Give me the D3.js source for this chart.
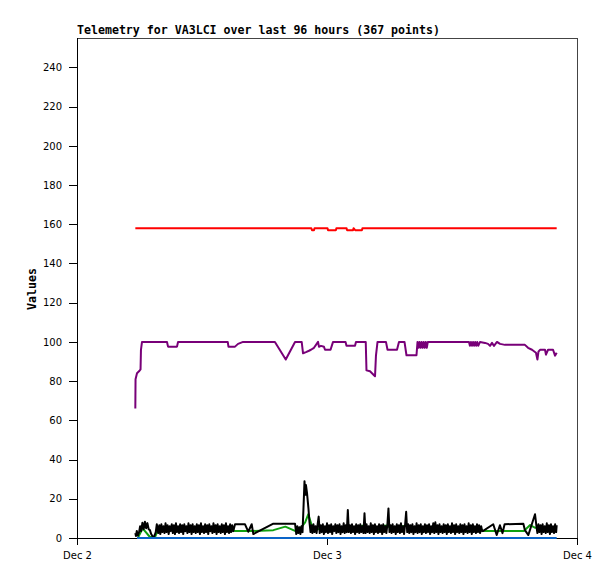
<!DOCTYPE html>
<html>
<head>
<meta charset="utf-8">
<script src="https://cdn.jsdelivr.net/npm/d3@7"></script>
<style>
  html, body { margin: 0; padding: 0; background: #fff; }
  svg { display: block; }
</style>
</head>
<body>
<script>
// ---- Data (hours after Dec 2 00:00, value) ----
const chartTitle = "Telemetry for VA3LCI over last 96 hours (367 points)";
const yLabel = "Values";
const xTickDays = ["2024-12-02", "2024-12-03", "2024-12-04"];
const yTicks = [0, 20, 40, 60, 80, 100, 120, 140, 160, 180, 200, 220, 240];

const redSeries = [
  [5.6,158],[22.5,158],[22.56,157],[22.75,157],[22.8,158],[24.05,158],[24.1,157],[24.86,157],
  [24.9,158],[25.88,158],[25.92,157],[26.5,157],[26.55,158],[26.7,157],[27.36,157],[27.4,158],[46.05,158]
];

const purpleSeries = [
  [5.6,66],[5.62,81],[5.76,84],[5.95,85],[6.1,86],[6.14,96],[6.24,100],[8.64,100],[8.74,97.6],[9.6,97.6],
  [9.7,100],[14.47,100],[14.54,97.6],[15.17,97.6],[15.46,99],[15.94,100],[19.0,100],[20.04,91],[20.93,100],
  [21.57,100],[21.7,94.2],[21.98,94.8],[22.27,95.5],[22.46,96],[22.75,97],[23.14,100],[23.23,97.5],[23.42,98],
  [23.71,97.5],[23.81,96],[24.34,96],[24.58,100],[25.78,100],[25.87,98],[26.69,98],[26.78,100],[27.72,100],
  [27.79,85.5],[28.13,85],[28.32,84],[28.51,83],[28.61,82.5],[28.7,93],[28.85,100],[29.66,100],[29.81,96],
  [30.72,96],[30.91,100],[31.44,100],[31.63,93.2],[32.59,93.2],[32.69,100],[32.78,97],[32.88,100],[32.98,97],
  [33.08,100],[33.18,97],[33.28,100],[33.38,97],[33.48,100],[33.58,97],[33.68,100],[37.63,100],[37.72,98],
  [37.82,100],[37.92,98],[38.02,100],[38.12,98],[38.22,100],[38.32,98],[38.42,100],[38.52,98],
  [38.69,100],[39.17,99.5],[39.46,99],[39.65,98],[39.84,99.5],[40.03,98],[40.32,100],[40.61,99],[41.09,98.5],
  [43.0,98.5],[43.3,97],[43.68,96],[44.06,94.5],[44.2,91],[44.3,95],[44.45,96],[44.93,96],[45.02,93.5],
  [45.22,96],[45.7,96],[45.89,93],[46.05,94.5]
];

const greenSeries = [
  [5.89,0.5],[6.3,4.9],[7.0,0.5],[7.49,0.5],[7.8,4.5],[10.0,4.8],[12.0,4.6],[14.5,4.7],[15.17,3.6],
  [16.93,3.6],[18.85,4.0],[20.0,5.8],[20.93,3.6],[21.4,4.5],[21.9,8.0],[22.2,12.1],[22.5,7.0],[22.85,4.5],
  [25.0,4.8],[26.0,5.5],[26.5,4.8],[27.5,6.4],[28.0,4.8],[29.73,6.4],[30.2,4.8],[31.65,6.4],[32.2,4.8],
  [35.0,4.6],[38.5,4.8],[39.0,3.6],[42.9,3.6],[43.5,6.6],[44.0,5.2],[46.05,5.0]
];

const blackSeries = [
  [5.60,2.5],[5.66,1.0],[5.74,3.6],[5.84,1.2],[5.96,3.0],[6.06,6.0],[6.16,3.5],[6.28,7.8],[6.40,4.5],
  [6.52,8.3],[6.64,5.0],[6.76,7.6],[6.88,4.5],[7.00,4.0],[7.12,2.0],[7.24,1.0],[7.34,0.3],[7.46,1.5],
  [7.56,3.0],[7.66,7.0],
  [7.8,2.5],[7.9,6.5],[8.0,2.0],[8.1,7.0],[8.2,3.0],[8.3,6.0],[8.4,2.5],[8.5,7.5],[8.6,3.0],[8.7,6.5],
  [8.8,2.0],[8.9,6.0],[9.0,3.5],[9.1,7.0],[9.2,2.5],[9.3,6.5],[9.4,2.0],[9.5,7.5],[9.6,3.0],[9.7,6.0],
  [9.8,2.5],[9.9,7.0],[10.0,3.0],[10.1,6.5],[10.2,2.0],[10.3,7.0],[10.4,3.5],[10.5,6.0],[10.6,2.5],
  [10.7,7.5],[10.8,3.0],[10.9,6.5],[11.0,2.0],[11.1,7.0],[11.2,3.0],[11.3,6.0],[11.4,2.5],[11.5,7.0],
  [11.6,3.0],[11.7,6.5],[11.8,2.0],[11.9,7.5],[12.0,3.0],[12.1,6.0],[12.2,2.5],[12.3,7.0],[12.4,3.0],
  [12.5,6.5],[12.6,2.0],[12.7,7.0],[12.8,3.5],[12.9,6.0],[13.0,2.5],[13.1,7.5],[13.2,3.0],[13.3,6.5],
  [13.4,2.0],[13.5,7.0],[13.6,3.0],[13.7,6.0],[13.8,2.5],[13.9,7.0],[14.0,3.0],[14.1,6.5],[14.2,2.0],
  [14.3,7.5],[14.4,3.0],[14.5,6.0],[14.6,2.5],[14.7,7.0],[14.8,3.0],[14.9,6.5],
  [15.00,3.5],[15.17,7.0],[16.13,7.0],[16.44,3.2],[16.77,7.0],[16.93,2.0],[18.85,7.3],[20.93,7.3],
  [21.05,2.0],[21.15,6.0],[21.25,2.5],[21.35,5.5],[21.45,2.0],[21.55,6.0],[21.65,3.0],[21.74,15],[21.84,29],
  [21.92,22],[21.98,27],[22.08,23],[22.22,15],[22.32,8],[22.42,3],
  [22.5,6.5],[22.6,2.5],[22.7,7.0],[22.8,3.0],[22.9,6.0],[23.0,2.5],[23.1,7.0],[23.2,10.9],[23.3,2.5],
  [23.4,6.5],[23.5,3.0],[23.6,7.0],[23.7,2.0],[23.8,6.0],[23.9,3.0],[24.0,7.5],[24.1,2.5],[24.2,6.5],
  [24.3,3.0],[24.4,7.0],[24.5,2.0],[24.6,6.0],[24.7,3.5],[24.8,7.0],[24.9,2.5],[25.0,6.5],[25.1,3.0],
  [25.2,7.0],[25.3,2.0],[25.4,6.0],[25.5,3.0],[25.6,7.5],[25.7,2.5],[25.8,6.5],[25.9,3.0],[26.0,14.3],
  [26.1,3.0],[26.2,6.5],[26.3,2.5],[26.4,7.0],[26.5,3.0],[26.6,6.0],[26.7,2.0],[26.8,7.0],[26.9,3.0],
  [27.0,6.5],[27.1,2.5],[27.2,7.0],[27.3,3.0],[27.4,6.0],[27.5,2.5],[27.6,12.6],[27.7,2.5],[27.8,7.0],
  [27.9,3.0],[28.0,6.0],[28.1,2.5],[28.2,7.5],[28.3,3.0],[28.4,6.5],[28.5,2.0],[28.6,7.0],[28.7,3.0],
  [28.8,6.0],[28.9,2.5],[29.0,7.0],[29.1,3.0],[29.2,6.5],[29.3,2.0],[29.4,7.0],[29.5,3.0],[29.6,6.0],
  [29.7,2.5],[29.8,7.0],[29.9,15.1],[30.0,3.0],[30.1,6.5],[30.2,2.5],[30.3,7.0],[30.4,3.0],[30.5,6.0],
  [30.6,2.0],[30.7,7.0],[30.8,3.0],[30.9,6.5],[31.0,2.5],[31.1,7.5],[31.2,3.0],[31.3,6.0],[31.4,2.0],
  [31.5,7.0],[31.6,13.4],[31.7,3.0],[31.8,7.0],[31.9,2.5],[32.0,6.5],[32.1,3.0],[32.2,7.0],[32.3,2.0],
  [32.4,6.0],[32.5,3.0],[32.6,7.5],[32.7,2.5],[32.8,6.5],[32.9,3.0],[33.0,7.0],[33.1,2.0],[33.2,6.0],
  [33.3,3.0],[33.4,7.0],[33.5,2.5],[33.6,6.5],[33.7,3.0],[33.8,7.0],[33.9,2.0],[34.0,6.0],[34.1,3.0],
  [34.2,7.5],[34.3,2.5],[34.4,8.0],[34.5,3.0],[34.6,6.5],[34.7,2.0],[34.8,7.0],[34.9,3.0],[35.0,6.0],
  [35.1,2.5],[35.2,7.0],[35.3,3.0],[35.4,6.5],[35.5,2.0],[35.6,7.0],[35.7,3.0],[35.8,6.0],[35.9,2.5],
  [36.0,7.5],[36.1,3.0],[36.2,6.5],[36.3,2.0],[36.4,7.0],[36.5,3.0],[36.6,6.0],[36.7,2.5],[36.8,7.0],
  [36.9,3.0],[37.0,6.5],[37.1,2.0],[37.2,7.0],[37.3,3.0],[37.4,6.0],[37.5,2.5],[37.6,7.5],[37.7,3.0],
  [37.8,6.5],[37.9,2.0],[38.0,7.0],[38.1,3.0],[38.2,6.0],[38.3,2.5],[38.4,7.0],[38.5,3.0],[38.6,6.5],
  [38.7,2.5],[38.8,6.0],[38.9,3.5],
  [39.00,3.6],[39.96,7.0],[40.29,1.5],[40.60,6.5],[40.85,2.5],[41.05,7.0],[42.85,7.3],[43.00,4.0],
  [43.33,1.5],[43.97,12.1],[44.13,5.0],
  [44.2,2.5],[44.3,7.0],[44.4,3.0],[44.5,6.5],[44.6,2.0],[44.7,7.0],[44.8,3.0],[44.9,6.0],[45.0,2.5],
  [45.1,7.5],[45.2,3.0],[45.3,6.5],[45.4,2.0],[45.5,7.0],[45.6,3.0],[45.7,6.0],[45.8,2.5],[45.9,7.0],
  [46.0,3.0],[46.05,6.5]
];

const blueSeries = [[5.76,0],[46.05,0]];

const seriesList = [
  { name: "red", data: redSeries, color: "#ff0000" },
  { name: "purple", data: purpleSeries, color: "#780078" },
  { name: "green", data: greenSeries, color: "#10a010" },
  { name: "black", data: blackSeries, color: "#000000" },
  { name: "blue", data: blueSeries, color: "#0a64c8" }
];

// ---- Layout ----
const W = 615, H = 579;
const mLeft = 77, mRight = 577, mTop = 38, mBottom = 538;
const t0 = Date.UTC(2024, 11, 2);
const toDate = h => new Date(t0 + h * 3600e3);

const x = d3.scaleUtc()
  .domain([new Date(xTickDays[0] + "T00:00:00Z"), new Date(xTickDays[2] + "T00:00:00Z")])
  .range([mLeft, mRight]);
const y = d3.scaleLinear().domain([0, 255]).range([mBottom, mTop]);

const svg = d3.select("body").append("svg").attr("width", W).attr("height", H);

// frame top / right
svg.append("path")
  .attr("d", `M${mLeft},${mTop + 0.5}H${mRight + 0.5}V${mBottom + 7}`)
  .attr("fill", "none").attr("stroke", "#444").attr("stroke-width", 1.2)
  .attr("shape-rendering", "crispEdges");

// title
svg.append("text")
  .attr("x", mLeft).attr("y", 34)
  .attr("font-family", "DejaVu Sans Mono, monospace")
  .attr("font-weight", "bold").attr("font-size", "11.6px")
  .attr("fill", "#000")
  .text(chartTitle);

// y label
svg.append("text")
  .attr("transform", "translate(36,289) rotate(-90)")
  .attr("text-anchor", "middle")
  .attr("font-family", "DejaVu Sans Mono, monospace")
  .attr("font-weight", "bold").attr("font-size", "11.6px")
  .text(yLabel);

// axes
const yAxis = d3.axisLeft(y).tickValues(yTicks).tickSize(8).tickSizeOuter(0).tickPadding(7);
const gy = svg.append("g").attr("transform", `translate(${mLeft},0)`).call(yAxis);
gy.select(".domain").attr("stroke", "#000").attr("d", `M0.5,${mTop}V${mBottom}`);

const xAxis = d3.axisBottom(x)
  .tickValues(xTickDays.map(d => new Date(d + "T00:00:00Z")))
  .tickFormat(d3.utcFormat("%b %-d"))
  .tickSize(7).tickSizeOuter(0).tickPadding(7);
const gx = svg.append("g").attr("transform", `translate(0,${mBottom})`).call(xAxis);
gx.select(".domain").attr("stroke", "#000");

svg.selectAll(".tick text")
  .attr("font-family", "DejaVu Sans, sans-serif")
  .attr("font-size", "10px")
  .attr("fill", "#000");
svg.selectAll(".tick line").attr("stroke", "#000");
svg.selectAll(".domain, .tick line").attr("shape-rendering", "crispEdges");

// series lines
const line = d3.line()
  .x(d => x(toDate(d[0])))
  .y(d => y(d[1]));

svg.append("g").selectAll("path.series")
  .data(seriesList)
  .join("path")
  .attr("class", "series")
  .attr("d", s => line(s.data))
  .attr("fill", "none")
  .attr("stroke", s => s.color)
  .attr("stroke-width", 2)
  .attr("stroke-linejoin", "round");
</script>
</body>
</html>
